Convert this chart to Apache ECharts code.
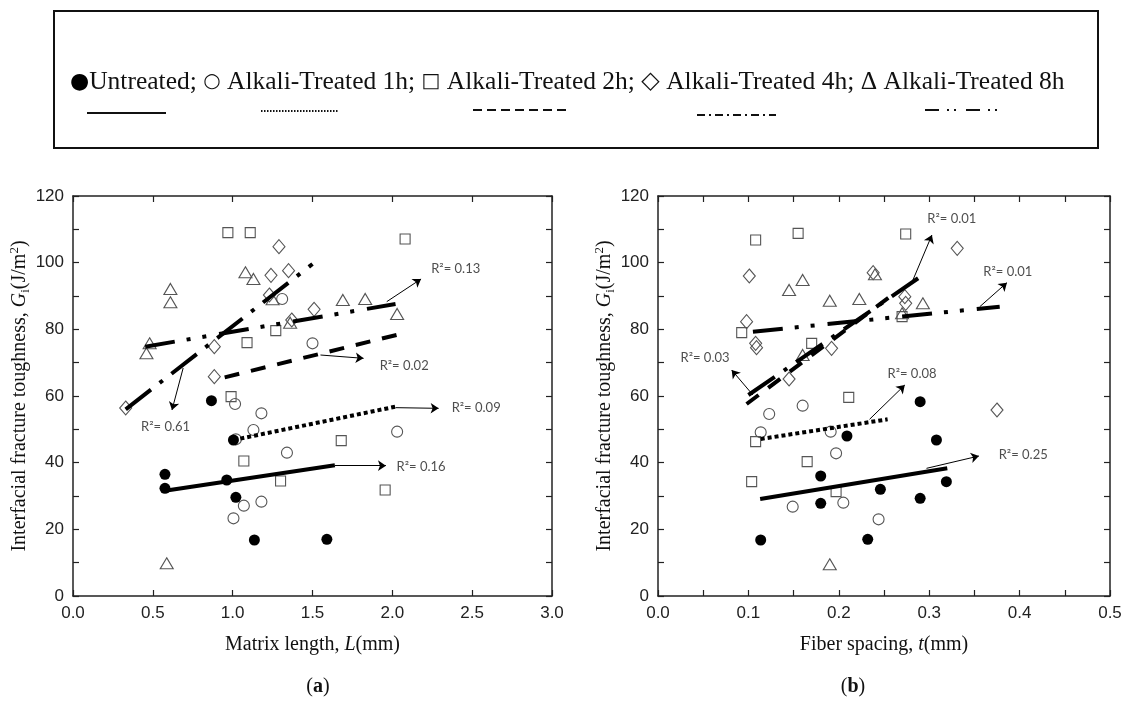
<!DOCTYPE html>
<html>
<head>
<meta charset="utf-8">
<script src="https://cdn.jsdelivr.net/npm/echarts@6/dist/echarts.min.js"></script>
<style>html,body{margin:0;padding:0;background:#fff}#c{width:1126px;height:705px}</style>
</head>
<body>
<div id="c"></div>
<script>
// ---------- Panel (a): Matrix length L (mm) ----------
const L_untreated = [[0.576,36.5],[0.576,32.3],[0.867,58.6],[0.963,34.8],[1.005,46.8],[1.02,29.6],[1.136,16.8],[1.59,17.0]];
const L_t1h = [[1.31,89.1],[1.50,75.8],[1.015,57.6],[1.18,54.8],[1.13,49.8],[1.02,47.0],[1.34,43.0],[1.07,27.1],[1.18,28.3],[1.005,23.3],[2.03,49.3]];
const L_t2h = [[0.97,109],[1.11,109],[2.08,107.1],[1.27,79.6],[1.09,76],[0.99,59.8],[1.07,40.5],[1.68,46.6],[1.30,34.5],[1.955,31.8]];
const L_t4h = [[1.29,104.8],[1.24,96.2],[1.35,97.6],[1.23,90.3],[1.37,82.8],[1.51,86],[0.885,74.8],[0.885,65.8],[0.33,56.4]];
const L_t8h = [[1.08,97.1],[1.13,95.1],[0.61,92.1],[0.61,88.1],[1.25,89],[1.36,82],[0.48,75.8],[0.46,72.8],[1.69,88.8],[1.83,89.1],[2.03,84.6],[0.587,9.8]];
const L_fitUntreated = [[0.576,31.6],[1.64,39.2]];
const L_fit1h = [[1.005,46.8],[2.02,56.8]];
const L_fit2h = [[0.95,65.6],[2.05,78.6]];
const L_fit4h = [[0.33,56.0],[1.50,99.6]];
const L_fit8h = [[0.452,74.8],[2.02,87.6]];
const L_r2Text = ['0.13','0.02','0.09','0.16','0.61'];
const L_r2At = [[2.397,98.1],[2.074,69.0],[2.525,56.4],[2.18,38.7],[0.58,50.7]];
const L_arrows = [[[1.965,88.3],[2.18,95.1]],[[1.55,72.3],[1.82,71.3]],[[2.02,56.5],[2.29,56.3]],[[1.64,39.1],[1.96,39.1]],[[0.69,68.4],[0.62,55.8]]];

// ---------- Panel (b): Fiber spacing t (mm) ----------
const R_untreated = [[0.1136,16.8],[0.18,36],[0.18,27.8],[0.29,58.3],[0.209,48],[0.308,46.8],[0.319,34.3],[0.246,32],[0.29,29.3],[0.232,17]];
const R_t1h = [[0.123,54.6],[0.16,57.1],[0.1136,49.1],[0.149,26.8],[0.191,49.3],[0.197,42.8],[0.205,28],[0.244,23]];
const R_t2h = [[0.108,106.8],[0.155,108.8],[0.274,108.6],[0.0926,79],[0.17,75.8],[0.27,83.8],[0.211,59.6],[0.108,46.3],[0.1036,34.3],[0.165,40.3],[0.197,31.3]];
const R_t4h = [[0.101,96],[0.098,82.3],[0.108,75.8],[0.109,74.5],[0.145,65.1],[0.331,104.3],[0.238,97],[0.273,89.8],[0.274,87.8],[0.192,74.3],[0.375,55.8]];
const R_t8h = [[0.145,91.8],[0.16,94.8],[0.19,88.6],[0.16,72.3],[0.2227,89.1],[0.293,87.8],[0.24,96.5],[0.27,84.8],[0.19,9.5]];
const R_fitUntreated = [[0.113,29.1],[0.32,38.3]];
const R_fit1h = [[0.1136,47.1],[0.254,53.0]];
const R_fit2h = [[0.098,57.6],[0.265,91.5]];
const R_fit4h = [[0.10,60.3],[0.293,96.3]];
const R_fit8h = [[0.105,79.3],[0.378,86.8]];
const R_r2Text = ['0.01','0.01','0.03','0.08','0.25'];
const R_r2At = [[0.325,113.3],[0.387,97.3],[0.052,71.4],[0.281,66.8],[0.404,42.3]];
const R_arrows = [[[0.282,94.8],[0.303,108.3]],[[0.356,86.8],[0.386,94.0]],[[0.105,60.3],[0.0815,67.8]],[[0.234,53.0],[0.273,63.3]],[[0.297,38.3],[0.355,42.0]]];

// ---------- Axis / legend text ----------
const yTitle = '{t|Interfacial fracture toughness, }{i|G}{s|i}{t|(J/m}{p|2}{t|)}';
const xTitleA = '{t|Matrix length, }{i|L}{t|(mm)}';
const xTitleB = '{t|Fiber spacing, }{i|t}{t|(mm)}';
const legendText = '{c|\u25CF}{t|Untreated; }{o|\u25CB}{t| Alkali-Treated 1h; }{o|\u25A1}{t| Alkali-Treated 2h; }{d|\u25C7}{t| Alkali-Treated 4h; \u0394 Alkali-Treated 8h}';

const SERIF = "'Liberation Serif','Times New Roman',serif";
const SANS = "'Liberation Sans',Arial,sans-serif";
const titleRich = {
  t:{fontFamily:SERIF,fontSize:20,color:'#111',lineHeight:24},
  i:{fontFamily:SERIF,fontSize:20,fontStyle:'italic',color:'#111',lineHeight:24},
  s:{fontFamily:SERIF,fontSize:13,color:'#111',verticalAlign:'bottom',lineHeight:13},
  p:{fontFamily:SERIF,fontSize:13,color:'#111',verticalAlign:'top',lineHeight:13}
};

const axisLine = {show:true,onZero:false,lineStyle:{color:'#222',width:1.5}};
const axisTick = {show:true,inside:true,length:6,lineStyle:{color:'#222',width:1.2}};
const labelStyle = {fontFamily:SANS,fontSize:17,color:'#222'};

function xAx(grid,pos,max,interval,fmt,name,show){
  return {gridIndex:grid,type:'value',position:pos,min:0,max:max,interval:interval,
    axisLine:axisLine,axisTick:axisTick,splitLine:{show:false},
    axisLabel:Object.assign({show:show,margin:9,formatter:fmt},labelStyle),
    name:name||'',nameLocation:'middle',nameGap:37,nameTextStyle:{rich:titleRich}};
}
function yAx(grid,pos,show,gap){
  return {gridIndex:grid,type:'value',position:pos,min:0,max:120,interval:10,
    axisLine:axisLine,axisTick:axisTick,splitLine:{show:false},
    axisLabel:Object.assign({show:show,margin:9,formatter:function(v){return (Math.round(v)%20===0)?String(Math.round(v)):'';}},labelStyle),
    name:show?yTitle:'',nameLocation:'middle',nameGap:gap||40,nameTextStyle:{rich:titleRich}};
}
const fmtA = v => v.toFixed(1);
const fmtB = v => (Math.abs(v*10-Math.round(v*10))<1e-6) ? v.toFixed(1) : '';

const openStyle = {color:'rgba(255,255,255,0)',borderColor:'#555',borderWidth:1.1,opacity:1};
const kinds = [
  {symbol:'circle',size:11,style:{color:'#000',opacity:1}},
  {symbol:'circle',size:11,style:openStyle},
  {symbol:'rect',size:10,style:openStyle},
  {symbol:'diamond',size:[12,14],style:openStyle},
  {symbol:'triangle',size:[13,11],style:openStyle}
];
const dashes = ['solid',[4,3],[15,12],[32,11,4,11],[30,12,4,12,4,13]];

function scatter(data,k,xi,yi){
  return {type:'scatter',xAxisIndex:xi,yAxisIndex:yi,data:data,symbol:kinds[k].symbol,symbolSize:kinds[k].size,
    itemStyle:kinds[k].style,emphasis:{disabled:true},silent:true,z:3};
}
function fit(data,k,xi,yi){
  return {type:'line',xAxisIndex:xi,yAxisIndex:yi,data:data,showSymbol:false,symbol:'none',silent:true,
    lineStyle:{color:'#000',width:4,type:dashes[k],cap:'butt'},z:4};
}
function notes(texts,at,arrows,xi,yi){
  return [
    {type:'lines',coordinateSystem:'cartesian2d',xAxisIndex:xi,yAxisIndex:yi,silent:true,z:5,
      symbol:['none','arrow'],symbolSize:8,
      lineStyle:{color:'#000',width:1,opacity:1},
      data:arrows.map(a=>({coords:a}))},
    {type:'scatter',xAxisIndex:xi,yAxisIndex:yi,symbolSize:0,silent:true,z:6,
      data:at.map((p,i)=>({value:p,name:texts[i]})),
      label:{show:true,position:'inside',formatter:p=>'R\u00B2= '+p.name,
        fontFamily:"Lato,'Open Sans',sans-serif",fontSize:13,color:'#222'}}
  ];
}

const series = [].concat(
  scatter(L_t1h,1,0,0),scatter(L_t2h,2,0,0),scatter(L_t4h,3,0,0),scatter(L_t8h,4,0,0),scatter(L_untreated,0,0,0),
  fit(L_fitUntreated,0,0,0),fit(L_fit1h,1,0,0),fit(L_fit2h,2,0,0),fit(L_fit4h,3,0,0),fit(L_fit8h,4,0,0),
  notes(L_r2Text,L_r2At,L_arrows,0,0),
  scatter(R_t1h,1,2,2),scatter(R_t2h,2,2,2),scatter(R_t4h,3,2,2),scatter(R_t8h,4,2,2),scatter(R_untreated,0,2,2),
  fit(R_fitUntreated,0,2,2),fit(R_fit1h,1,2,2),fit(R_fit2h,2,2,2),fit(R_fit4h,3,2,2),fit(R_fit8h,4,2,2),
  notes(R_r2Text,R_r2At,R_arrows,2,2)
);

const legendLines = [
  {x1:87,x2:166,y:113,dash:null},
  {x1:261,x2:339,y:111,dash:[1.5,1.5]},
  {x1:473,x2:571,y:110,dash:[9,5]},
  {x1:697,x2:776,y:115,dash:[8,4,2,4]},
  {x1:925,x2:1002,y:110,dash:[14,8,2,5,2,10]}
];

const graphic = [
  {type:'rect',shape:{x:54,y:11,width:1044,height:137},style:{fill:'#fff',stroke:'#111',lineWidth:2},z:0},
  {type:'text',x:70,y:82,style:{text:legendText,textVerticalAlign:'middle',
    rich:{
      t:{font:"25.5px "+SERIF,fill:'#111'},
      c:{font:"22px 'DejaVu Sans',sans-serif",fill:'#000'},
      o:{font:"20px 'DejaVu Sans',sans-serif",fill:'#111'},
      d:{font:"24px 'DejaVu Sans',sans-serif",fill:'#111'}
    }},z:1}
].concat(legendLines.map(l=>({type:'line',shape:{x1:l.x1,y1:l.y,x2:l.x2,y2:l.y},
  style:{stroke:'#111',lineWidth:2,lineDash:l.dash},z:1}))).concat([
  {type:'text',x:318,y:687,style:{text:'({b|a})',rich:{b:{fontWeight:'bold',fontFamily:SERIF,fontSize:20,fill:'#111'}},
    font:"20px "+SERIF,fill:'#111',textAlign:'center',textVerticalAlign:'middle'}},
  {type:'text',x:853,y:687,style:{text:'({b|b})',rich:{b:{fontWeight:'bold',fontFamily:SERIF,fontSize:20,fill:'#111'}},
    font:"20px "+SERIF,fill:'#111',textAlign:'center',textVerticalAlign:'middle'}}
]);

const option = {
  animation:false,
  backgroundColor:'#fff',
  grid:[{left:73,right:574,top:196,bottom:109},{left:658,right:16,top:196,bottom:109}],
  xAxis:[
    xAx(0,'bottom',3,0.5,fmtA,xTitleA,true),
    xAx(0,'top',3,0.5,fmtA,'',false),
    xAx(1,'bottom',0.5,0.05,fmtB,xTitleB,true),
    xAx(1,'top',0.5,0.05,fmtB,'',false)
  ],
  yAxis:[yAx(0,'left',true,39),yAx(0,'right',false),yAx(1,'left',true,37),yAx(1,'right',false)],
  series:series,
  graphic:graphic
};
const chart = echarts.init(document.getElementById('c'),null,{renderer:'canvas'});
chart.setOption(option);
</script>
</body>
</html>
